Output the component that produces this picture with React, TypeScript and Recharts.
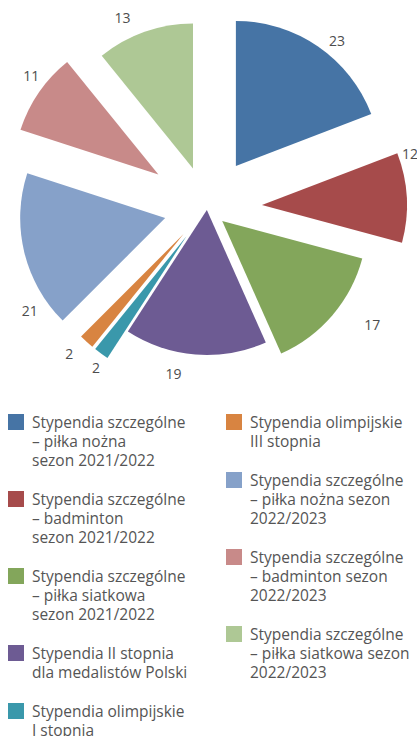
import { PieChart, Pie, Cell, Legend, Sector } from 'recharts'

const NAMES = [
  'Stypendia szczególne\n– piłka nożna\nsezon 2021/2022',
  'Stypendia szczególne\n– badminton\nsezon 2021/2022',
  'Stypendia szczególne\n– piłka siatkowa\nsezon 2021/2022',
  'Stypendia II stopnia\ndla medalistów Polski',
  'Stypendia olimpijskie\nI stopnia',
  'Stypendia olimpijskie\nIII stopnia',
  'Stypendia szczególne\n– piłka nożna sezon\n2022/2023',
  'Stypendia szczególne\n– badminton sezon\n2022/2023',
  'Stypendia szczególne\n– piłka siatkowa sezon\n2022/2023',
]
const VALUES = [23, 12, 17, 19, 2, 2, 21, 11, 13]

const COLORS = ['#4674a5', '#a64b4b', '#83a65b', '#6d5b93', '#3a98ab', '#d88441', '#86a1c9', '#c88a89', '#aec895']
// how far each slice is pulled out of the pie (px)
const EXPLODE = [51, 55, 20, 2, 35, 35, 43, 59, 42]
// label placement tweaks: clockwise angle shift (deg) and distance from slice tip
const LABEL_SHIFT = [4.4, -16.3, -6, 7, -1.3, 1.8, -20.8, 3.4, -5.5]
const LABEL_DIST = [161, 157, 182, 167, 159, 165, 164, 161, 167]

const data = NAMES.map((name, i) => ({ name, value: VALUES[i] }))

const RADIAN = Math.PI / 180
const FONT = '"Open Sans", "Noto Sans", sans-serif'

function renderSlice(props: any) {
  const { cx, cy, outerRadius, startAngle, endAngle, midAngle, index, value } = props
  const ox = cx + EXPLODE[index] * Math.cos(-midAngle * RADIAN)
  const oy = cy + EXPLODE[index] * Math.sin(-midAngle * RADIAN)
  const la = (midAngle - LABEL_SHIFT[index]) * RADIAN
  const lx = ox + LABEL_DIST[index] * Math.cos(-la)
  const ly = oy + LABEL_DIST[index] * Math.sin(-la)
  return (
    <g>
      <Sector
        cx={ox}
        cy={oy}
        innerRadius={0}
        outerRadius={outerRadius}
        startAngle={startAngle}
        endAngle={endAngle}
        fill={COLORS[index]}
      />
      <text x={lx} y={ly} textAnchor="middle" dominantBaseline="central" fill="#4d4d4d" fontSize={14}>
        {value}
      </text>
    </g>
  )
}

function renderLegend(props: any) {
  // keep the data order (recharts sorts legend items by default)
  const items = [...(props.payload || [])].sort(
    (a: any, b: any) => NAMES.indexOf(a.value) - NAMES.indexOf(b.value)
  )
  const col = (list: any[]) => (
    <div style={{ display: 'flex', flexDirection: 'column', gap: 20 }}>
      {list.map((item: any) => (
        <div key={item.value} style={{ display: 'flex', alignItems: 'flex-start' }}>
          <span style={{ width: 16, height: 16, background: item.color, marginTop: 1, marginRight: 8, flexShrink: 0 }} />
          <span style={{ whiteSpace: 'pre-line', lineHeight: '19px', fontSize: 15.5, color: '#555' }}>{item.value}</span>
        </div>
      ))}
    </div>
  )
  return (
    <div style={{ display: 'flex', fontFamily: FONT, textAlign: 'left' }}>
      <div style={{ width: 218, paddingLeft: 8 }}>{col(items.slice(0, 5))}</div>
      <div>{col(items.slice(5))}</div>
    </div>
  )
}

export default function App() {
  return (
    <div style={{ position: 'absolute', left: 0, top: 0 }}>
      <PieChart width={417} height={736} margin={{ top: 0, right: 0, bottom: 0, left: 0 }} style={{ fontFamily: FONT }}>
        <Pie
          data={data}
          dataKey="value"
          nameKey="name"
          cx={207}
          cy={208}
          outerRadius={145}
          startAngle={90}
          endAngle={-270}
          stroke="none"
          fillOpacity={0}
          label={renderSlice}
          labelLine={false}
          isAnimationActive={false}
        >
          {data.map((d, i) => (
            <Cell key={d.name} fill={COLORS[i]} />
          ))}
        </Pie>
        <Legend
          verticalAlign="bottom"
          content={renderLegend}
          wrapperStyle={{ top: 413, bottom: 'auto', left: 0, width: 417 }}
        />
      </PieChart>
    </div>
  )
}
